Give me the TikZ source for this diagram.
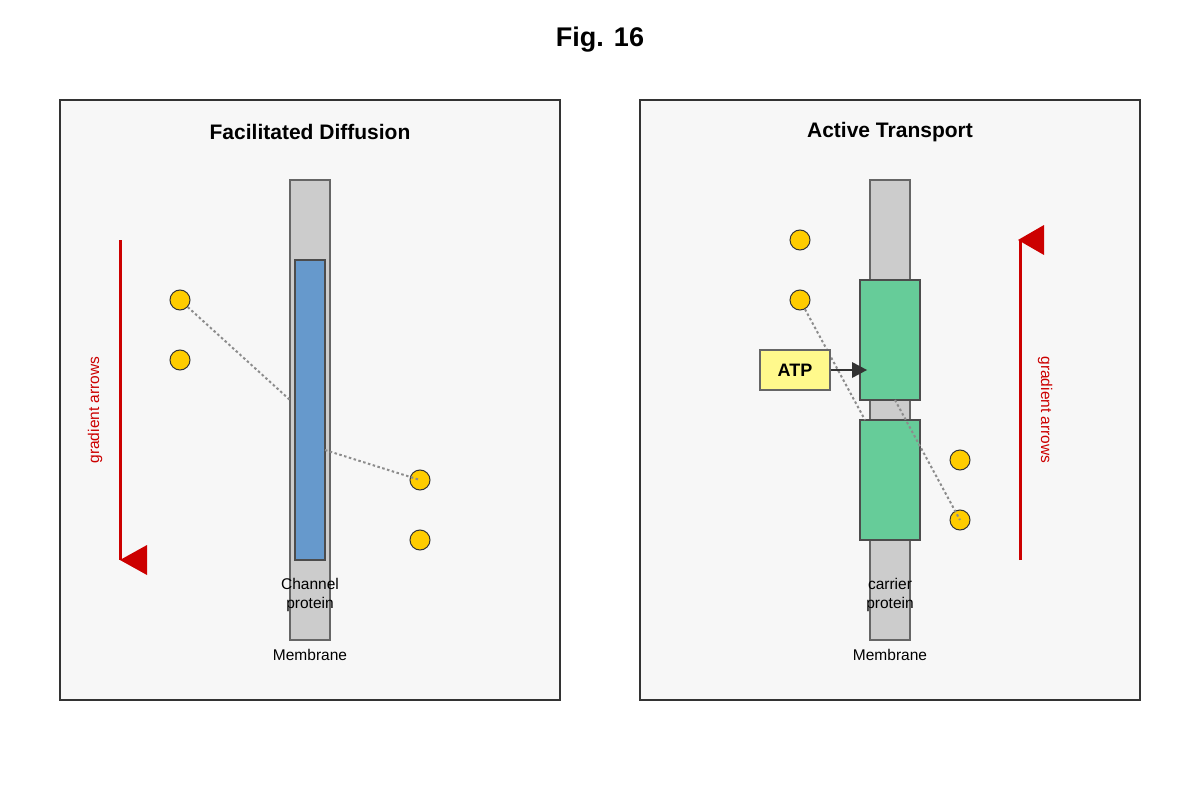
\documentclass[tikz,border=0pt]{standalone}
\usepackage{fontspec}
\setmainfont{Liberation Sans}
\definecolor{chan}{RGB}{102,153,204}
\definecolor{carr}{RGB}{102,204,153}
\definecolor{mol}{RGB}{255,204,0}
\definecolor{grd}{RGB}{204,0,0}
\begin{document}
\begin{tikzpicture}[x=1pt,y=-1pt,
 panel/.style={draw=black!80,line width=2pt,fill=black!3},
 mem/.style={draw=black!60,fill=black!20,line width=1.1pt},
 mol/.style={circle,draw=black!80,fill=mol,minimum size=20pt,inner sep=0pt,line width=1pt},
 dots/.style={draw=black!45,dash pattern=on 2.5pt off 2.5pt,line width=2pt},
 grad/.style={draw=grd,line width=3pt},
 head/.style={fill=grd},
 ttl/.style={font=\bfseries\fontsize{21}{24}\selectfont},
 lbl/.style={font=\fontsize{15.5}{19}\selectfont,align=center}]
\useasboundingbox (0,0) rectangle (1200,800);
\node[font=\bfseries\fontsize{27}{30}\selectfont] (fig) at (600,40) {Fig. 16};
% left panel
\draw[panel] (60,100) rectangle (560,700);
\node[ttl] (t1) at (310,132) {Facilitated Diffusion};
\draw[mem] (290,180) rectangle (330,640);
\draw[draw=black!70,fill=chan,line width=1.1pt] (295,260) rectangle (325,560);
\coordinate (g1a) at (120,240); \coordinate (g1b) at (120,560);
\draw[grad] (g1a) -- (g1b);
\fill[head] (120,560) -- (147,545) -- (147,575) -- cycle;
\node[text=grd,rotate=90,lbl] (ga1) at (95,410) {gradient arrows};
\node[mol] (a1) at (180,300) {};
\node[mol] (a2) at (180,360) {};
\node[mol] (a3) at (420,480) {};
\node[mol] (a4) at (420,540) {};
\coordinate (c1) at (290,400); \coordinate (c2) at (325,450);
\draw[dots] (a1) -- (c1);
\draw[dots] (c2) -- (a3.center);
\node[lbl] (cp) at (310,595) {Channel\\protein};
\node[lbl] (m1) at (310,655) {Membrane};
% right panel
\draw[panel] (640,100) rectangle (1140,700);
\node[ttl] (t2) at (890,132) {Active Transport};
\draw[mem] (870,180) rectangle (910,640);
\draw[draw=black!70,fill=carr,line width=1.1pt] (860,280) rectangle (920,400);
\draw[draw=black!70,fill=carr,line width=1.1pt] (860,420) rectangle (920,540);
\coordinate (g2a) at (1020,560); \coordinate (g2b) at (1020,240);
\draw[grad] (g2a) -- (g2b);
\fill[head] (1018,240) -- (1044,225) -- (1044,255) -- cycle;
\node[text=grd,rotate=-90,lbl] (ga2) at (1045,410) {gradient arrows};
\node[mol] (b1) at (800,240) {};
\node[mol] (b2) at (800,300) {};
\node[mol] (b3) at (960,460) {};
\node[mol] (b4) at (960,520) {};
\coordinate (d1) at (865,420); \coordinate (d2) at (895,400);
\draw[dots] (b2) -- (d1);
\draw[dots] (d2) -- (b4.center);
\node[draw=black!60,fill=yellow!45,line width=1.1pt,minimum width=70pt,minimum height=40pt,inner sep=0pt,font=\bfseries\fontsize{18}{20}\selectfont] (atp) at (795,370) {ATP};
\coordinate (at) at (867,370);
\draw[black!80,line width=2pt] (atp.east) -- (852,370);
\fill[black!80] (at) -- (852,362) -- (852,378) -- cycle;
\node[lbl] (cr) at (890,595) {carrier\\protein};
\node[lbl] (m2) at (890,655) {Membrane};
\end{tikzpicture}
\end{document}
